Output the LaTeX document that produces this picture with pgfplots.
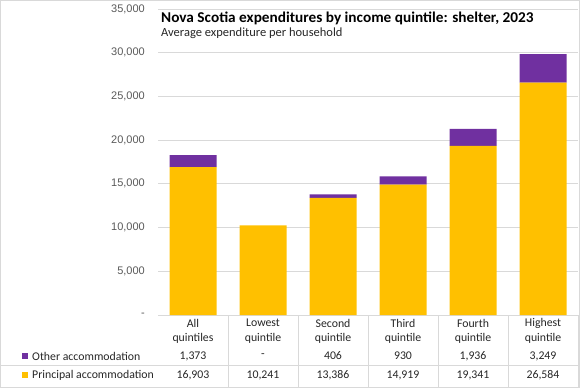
\documentclass[border=0pt]{standalone}
\usepackage{fontspec}
\setmainfont{Carlito}
\newfontfamily\tickfont{Liberation Sans}
\newfontfamily\titlefont[FakeStretch=1.02]{Carlito}
\usepackage{pgfplots}
\pgfplotsset{compat=1.18}
\definecolor{purp}{HTML}{7030A0}
\definecolor{gold}{HTML}{FFC000}
\definecolor{gridc}{HTML}{D9D9D9}
\definecolor{tickc}{HTML}{595959}
\definecolor{txt}{HTML}{262626}
\begin{document}
\begin{tikzpicture}
\begin{axis}[name=ax, scale only axis, width=420pt, height=306pt,
  ymin=0, ymax=35000, xmin=-0.5, xmax=5.5,
  ybar stacked, bar width=47pt,
  ytick={0,5000,...,35000},
  yticklabels={-,{5,000},{10,000},{15,000},{20,000},{25,000},{30,000},{35,000}},
  xtick=\empty,
  ymajorgrids, grid style={gridc, line width=0.8pt},
  axis line style={draw=none},
  major tick length=0pt,
  yticklabel style={font=\tickfont\fontsize{11}{13}\selectfont, text=tickc, anchor=east, inner sep=0pt, xshift=-13pt},
  clip=false,
]
\addplot[fill=gold, draw=none] coordinates {(0,16903) (1,10241) (2,13386) (3,14919) (4,19341) (5,26584)};
\addplot[fill=purp, draw=none] coordinates {(0,1373) (1,0) (2,406) (3,930) (4,1936) (5,3249)};
\end{axis}
\begin{scope}[shift={(ax.south west)}, x=1pt, y=1pt]
\pgfresetboundingbox
\path[use as bounding box] (-158,-73) rectangle (422,315);
\draw[gridc, line width=1pt] (-157.5,-72.5) rectangle (421.5,314.5);
\foreach \x in {70,140,210,280,350,420} \draw[gridc, line width=0.8pt] (\x,0) -- (\x,-72);
\draw[gridc, line width=0.8pt] (-157,-50) -- (420,-50);
% title
\node[anchor=base west, inner sep=0pt, text=black, font=\titlefont\bfseries\fontsize{15}{17}\selectfont] at (3,292) {Nova Scotia expenditures by income quintile: shelter, 2023};
\node[anchor=base west, inner sep=0pt, text=txt, font=\fontsize{12.5}{14}\selectfont] at (3,278) {Average expenditure per household};
% table
\begin{scope}[every node/.style={inner sep=0pt, text=txt, font=\fontsize{11.8}{13}\selectfont}]
\node at (35,-8) {All};      \node at (35,-23) {quintiles};
\node at (105,-8) {Lowest};  \node at (105,-23) {quintile};
\node at (175,-8) {Second};  \node at (175,-23) {quintile};
\node at (245,-8) {Third};   \node at (245,-23) {quintile};
\node at (315,-8) {Fourth};  \node at (315,-23) {quintile};
\node at (385,-8) {Highest}; \node at (385,-23) {quintile};
\node at (35,-41) {1,373};  \node at (35,-60) {16,903};
\node at (105,-41) {-};     \node at (105,-60) {10,241};
\node at (175,-41) {406};   \node at (175,-60) {13,386};
\node at (245,-41) {930};   \node at (245,-60) {14,919};
\node at (315,-41) {1,936}; \node at (315,-60) {19,341};
\node at (385,-41) {3,249}; \node at (385,-60) {26,584};
\fill[purp] (-136,-44) rectangle (-130,-38);
\fill[gold] (-136,-63) rectangle (-130,-57);
\node[anchor=west] at (-126,-41) {Other accommodation};
\node[anchor=west] at (-126,-60) {Principal accommodation};
\end{scope}
\end{scope}
\end{tikzpicture}
\end{document}
